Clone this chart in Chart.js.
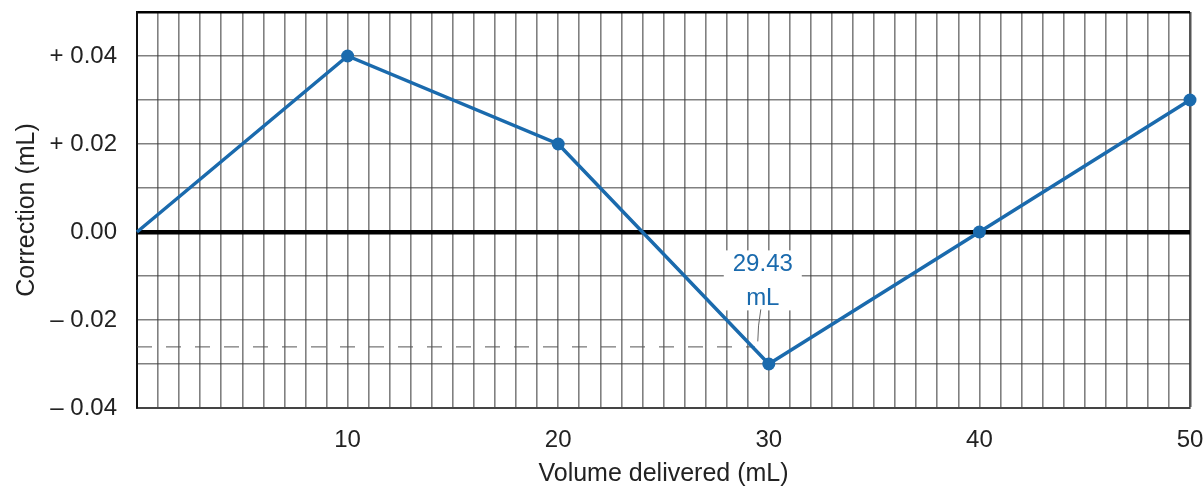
<!DOCTYPE html>
<html>
<head>
<meta charset="utf-8">
<script src="https://cdn.jsdelivr.net/npm/chart.js@4.4.1/dist/chart.umd.min.js"></script>
<style>
  html, body { margin: 0; padding: 0; background: #ffffff; }
  #wrap { width: 1204px; height: 489px; position: relative; }
</style>
</head>
<body>
<div id="wrap"><canvas id="c" width="1204" height="489"></canvas></div>
<script>
// ---- data ----
const volumes = [0, 10, 20, 30, 40, 50];            // mL delivered
const corrections = [0.00, 0.04, 0.02, -0.03, 0.00, 0.03]; // mL correction
const xLabelValues = [10, 20, 30, 40, 50];
const yLabels = { '4': '+ 0.04', '2': '+ 0.02', '0': '0.00', '-2': '\u2013 0.02', '-4': '\u2013 0.04' };
const markerVolume = 29.43;       // mL, annotated reading
const markerCorrection = -0.026;  // mL, dashed reference line level
const markerText = ['29.43', 'mL'];

const FONT = '"Liberation Sans", Arial, Helvetica, sans-serif';
const BLUE = '#1a6aad';
const GRID = 'rgba(60,60,60,0.65)';

const annotationPlugin = {
  id: 'readingAnnotation',
  beforeDatasetsDraw(chart) {
    const { ctx, scales: { x, y } } = chart;
    const px = x.getPixelForValue(markerVolume);
    const py = y.getPixelForValue(markerCorrection);
    const x0 = x.getPixelForValue(0);
    ctx.save();
    // dashed reading line
    ctx.strokeStyle = '#555';
    ctx.lineWidth = 1;
    ctx.setLineDash([15, 14]);
    ctx.beginPath();
    ctx.moveTo(x0, py + 0.5);
    ctx.lineTo(px - 2, py + 0.5);
    ctx.stroke();
    ctx.setLineDash([]);
    // white label box
    const cx = px + 6;
    ctx.fillStyle = '#ffffff';
    ctx.fillRect(cx - 39, py - 96, 78, 60);
    // leader line
    ctx.strokeStyle = '#666';
    ctx.lineWidth = 1;
    ctx.beginPath();
    ctx.moveTo(px + 4, py - 37);
    ctx.quadraticCurveTo(px + 1, py - 20, px + 1, py - 5);
    ctx.stroke();
    // label text
    ctx.fillStyle = BLUE;
    ctx.font = '24px ' + FONT;
    ctx.textAlign = 'center';
    ctx.textBaseline = 'middle';
    ctx.fillText(markerText[0], cx, py - 82);
    ctx.fillText(markerText[1], cx, py - 48);
    ctx.restore();
  }
};

const points = volumes.map((v, i) => ({ x: v, y: corrections[i] }));

new Chart(document.getElementById('c'), {
  type: 'line',
  data: {
    datasets: [{
      data: points,
      borderColor: BLUE,
      backgroundColor: BLUE,
      borderWidth: 3.5,
      pointRadius: volumes.map(v => (v === 0 ? 0 : 6.5)),
      pointBorderWidth: 0,
      pointHoverRadius: 6.5,
      tension: 0,
      clip: false
    }]
  },
  options: {
    responsive: false,
    animation: false,
    devicePixelRatio: 1,
    layout: { padding: { top: 12, right: 14, left: 0, bottom: 0 } },
    plugins: { legend: { display: false }, tooltip: { enabled: false } },
    scales: {
      x: {
        type: 'linear',
        min: 0, max: 50,
        afterFit(s) { s.height = 81; s.paddingLeft = 0; s.paddingRight = 0; },
        ticks: {
          stepSize: 1,
          autoSkip: false,
          maxRotation: 0,
          padding: 18,
          color: '#222',
          font: { family: FONT, size: 24 },
          callback: (v) => (xLabelValues.includes(Math.round(v)) && Math.abs(v - Math.round(v)) < 1e-6 ? String(Math.round(v)) : '')
        },
        grid: {
          drawTicks: false,
          color: (c) => (c.tick && Math.round(c.tick.value) === 50 ? '#555' : GRID),
          lineWidth: (c) => (c.tick && Math.round(c.tick.value) === 50 ? 2.5 : 1.6)
        },
        border: { display: true, color: '#444', width: 2 },
        title: {
          display: true,
          text: 'Volume delivered (mL)',
          color: '#222',
          font: { family: FONT, size: 25 },
          padding: { top: 0, bottom: 0 }
        }
      },
      y: {
        type: 'linear',
        min: -0.04, max: 0.05,
        afterFit(s) { s.width = 137; s.paddingTop = 0; s.paddingBottom = 0; },
        ticks: {
          stepSize: 0.01,
          autoSkip: false,
          padding: 20,
          color: '#222',
          font: { family: FONT, size: 24 },
          callback: (v) => {
            const k = String(Math.round(v * 100));
            return yLabels[k] !== undefined ? yLabels[k] : '';
          }
        },
        grid: {
          drawTicks: false,
          color: (c) => {
            if (!c.tick) return GRID;
            const k = Math.round(c.tick.value * 100);
            if (k === 0 || k === 5) return '#000';
            return GRID;
          },
          lineWidth: (c) => {
            if (!c.tick) return 1.6;
            const k = Math.round(c.tick.value * 100);
            if (k === 0) return 4.5;
            if (k === 5) return 2.5;
            return 1.6;
          }
        },
        border: { display: true, color: '#111', width: 2 },
        title: {
          display: true,
          text: 'Correction (mL)',
          color: '#222',
          font: { family: FONT, size: 25 },
          padding: { top: 12, bottom: 0 }
        }
      }
    }
  },
  plugins: [annotationPlugin]
});
</script>
</body>
</html>
